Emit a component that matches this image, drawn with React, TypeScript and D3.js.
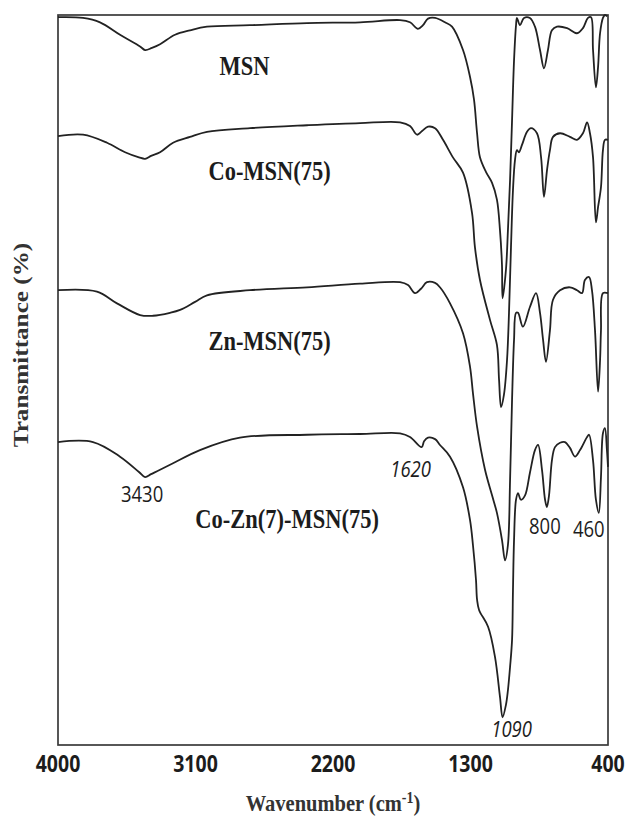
import React from "react";
import * as d3 from "d3";

// FTIR spectra: [wavenumber (cm-1), transmittance (offset, a.u.)]
const msn: [number, number][] = [
  [4000, 99.7], [3836, 99.6], [3725, 99.0], [3594, 97.3], [3463, 95.7], [3430, 95.2],
  [3385, 95.5], [3332, 96.0],
  [3234, 97.3], [3136, 97.9], [3025, 98.4], [2743, 98.6], [2370, 98.9], [2023, 99.0],
  [1761, 99.3], [1696, 99.0], [1644, 98.1], [1611, 98.6], [1578, 99.5], [1532, 99.6],
  [1467, 99.0], [1421, 98.4], [1349, 95.2], [1303, 91.5], [1277, 88.4], [1257, 83.8],
  [1238, 80.5], [1199, 78.5], [1159, 77.0], [1127, 74.7], [1107, 70.5], [1094, 65.8],
  [1090, 61.2], [1068, 65.1], [1055, 70.5], [1041, 77.4], [1028, 85.6], [1015, 93.8],
  [1002, 98.6], [996, 99.6], [976, 98.6], [950, 99.6], [911, 99.6], [878, 98.4],
  [845, 95.2], [819, 92.7], [793, 95.2], [767, 97.9], [734, 98.4], [668, 98.2],
  [603, 97.5], [564, 98.2], [531, 99.6], [511, 99.7], [498, 95.2], [479, 90.1],
  [465, 92.9], [452, 97.5], [433, 99.6], [420, 100], [405, 99.8],
];

const coMsn: [number, number][] = [
  [4000, 83.4], [3836, 83.6], [3679, 82.5], [3561, 81.2], [3470, 80.5], [3430, 80.3],
  [3391, 80.7], [3332, 81.2],
  [3247, 82.5], [3136, 83.3], [3025, 84.0], [2743, 84.5], [2370, 84.9], [2023, 85.2],
  [1761, 85.3], [1696, 84.8], [1650, 83.6], [1617, 84.1], [1578, 84.7], [1532, 84.5],
  [1480, 82.9], [1415, 80.5], [1349, 78.4], [1290, 72.9], [1271, 68.2], [1238, 63.7],
  [1172, 58.2], [1127, 54.8], [1113, 50.0], [1100, 46.3], [1081, 48.0], [1061, 52.7],
  [1048, 59.2], [1035, 68.2], [1022, 76.0], [1009, 80.1], [996, 81.5], [983, 81.2],
  [963, 82.2], [930, 84.0], [904, 84.5], [865, 83.8], [838, 80.5], [819, 75.1],
  [799, 78.8], [780, 81.5], [760, 83.3], [714, 83.8], [649, 83.3], [603, 82.9],
  [564, 83.8], [537, 85.3], [518, 83.8], [498, 80.5], [479, 71.6], [465, 73.7],
  [446, 76.4], [433, 81.5], [420, 82.9], [400, 82.9],
];

const znMsn: [number, number][] = [
  [4000, 62.3], [3745, 62.1], [3614, 60.5], [3463, 58.9], [3378, 58.8], [3267, 59.2],
  [3201, 59.6], [3103, 60.7], [3025, 61.6], [2743, 62.3], [2370, 62.7], [2023, 63.2],
  [1761, 63.4], [1709, 63.0], [1663, 61.9], [1624, 62.5], [1585, 63.4], [1532, 63.3],
  [1500, 62.7], [1434, 60.5], [1349, 56.4], [1303, 51.8], [1284, 48.2], [1257, 43.6],
  [1205, 37.7], [1159, 34.2], [1127, 31.8], [1094, 28.1], [1074, 25.3], [1055, 27.4],
  [1041, 36.3], [1028, 47.3], [1015, 55.5], [1002, 59.2], [989, 59.2], [957, 57.3],
  [911, 60.0], [871, 61.9], [845, 59.2], [825, 55.5], [806, 52.5], [780, 56.8],
  [760, 61.0], [714, 62.3], [649, 62.7], [603, 62.3], [570, 61.9], [551, 63.7],
  [524, 64.1], [505, 62.3], [485, 56.8], [465, 48.4], [452, 52.7], [446, 56.8],
  [433, 61.9], [400, 61.9],
];

const coZnMsn: [number, number][] = [
  [4000, 41.5], [3771, 41.5], [3594, 39.5], [3470, 37.4], [3430, 36.7], [3391, 37.1],
  [3332, 37.7], [3247, 38.6],
  [3071, 40.4], [2809, 42.1], [2370, 42.5], [2023, 42.6], [1761, 42.7], [1696, 42.2],
  [1620, 40.8], [1604, 41.6], [1578, 42.1], [1532, 41.9], [1500, 41.1], [1434, 39.5],
  [1349, 35.3], [1303, 30.8], [1284, 27.4], [1264, 22.6], [1257, 19.9], [1244, 18.5],
  [1185, 16.2], [1140, 12.1], [1107, 6.6], [1090, 3.8], [1068, 5.5], [1055, 7.5],
  [1041, 10.7], [1028, 14.4], [1022, 21.2], [1015, 28.1], [1002, 33.6], [989, 34.5],
  [970, 33.6], [943, 34.2], [911, 37.3], [878, 40.4], [858, 41.1], [832, 37.7],
  [812, 33.6], [800, 32.6], [786, 34.2], [767, 39.0], [747, 40.8], [714, 41.4],
  [682, 41.5], [649, 40.7], [616, 39.5], [583, 40.4], [537, 42.2], [524, 42.5],
  [498, 39.0], [479, 33.6], [460, 31.8], [446, 36.7], [433, 42.7], [420, 43.4],
  [407, 40.4], [400, 38.1],
];

const seriesNames = ["MSN", "Co-MSN(75)", "Zn-MSN(75)", "Co-Zn(7)-MSN(75)"];
const seriesData = [msn, coMsn, znMsn, coZnMsn];
// label anchor per series: [wavenumber, transmittance]
const seriesLabelAt: [number, number][] = [
  [2780, 91.8], [2615, 77.4], [2615, 54.1], [2500, 29.7],
];

const xTicks = [4000, 3100, 2200, 1300, 400];
// band assignments marked on the lowest spectrum: [wavenumber, text, italic]
const bandLabels: [number, string, boolean][] = [
  [3430, "3430", false],
  [1620, "1620", true],
  [1090, "1090", true],
  [800, "800", false],
  [460, "460", false],
];

const W = 633;
const H = 816;
const M = { left: 58, right: 608, top: 15, bottom: 745 };

export default function App() {
  const x = d3.scaleLinear().domain([4000, 400]).range([M.left, M.right]);
  const y = d3.scaleLinear().domain([0, 100]).range([M.bottom, M.top]);
  const line = d3
    .line<[number, number]>()
    .x((d) => x(d[0]))
    .y((d) => y(d[1]))
    .curve(d3.curveCatmullRom.alpha(0.5));

  const ink = "#1c1c1c";
  const serif = "'Liberation Serif', 'DejaVu Serif', serif";
  const sans = "'Open Sans', 'Noto Sans', sans-serif";

  // band label offsets relative to the band minimum on the lowest trace
  const bandPos: Record<string, [number, number]> = {
    "3430": [-3, 25],
    "1620": [-11, 30],
    "1090": [9, 20],
    "800": [-2, 27],
    "460": [-10, 24],
  };
  const lowest = coZnMsn;
  const valueAt = (wn: number) => {
    const p = lowest.find((d) => d[0] === wn);
    return p ? p[1] : 0;
  };

  return (
    <svg
      width={W}
      height={H}
      viewBox={`0 0 ${W} ${H}`}
      style={{ position: "absolute", left: 0, top: 0, background: "#fff" }}
    >
      <rect x={0} y={0} width={W} height={H} fill="#fff" />
      <rect
        x={M.left}
        y={M.top}
        width={M.right - M.left}
        height={M.bottom - M.top}
        fill="none"
        stroke="#3a3a3a"
        strokeWidth={1.7}
      />

      {seriesData.map((s, i) => (
        <path
          key={seriesNames[i]}
          d={line(s) ?? ""}
          fill="none"
          stroke="#222"
          strokeWidth={1.8}
          strokeLinejoin="round"
        />
      ))}

      {seriesNames.map((name, i) => (
        <text
          key={name}
          transform={`translate(${x(seriesLabelAt[i][0])},${y(seriesLabelAt[i][1])}) scale(1,1.18)`}
          textAnchor="middle"
          fontFamily={serif}
          fontWeight={700}
          fontSize={22.5}
          fill={ink}
        >
          {name}
        </text>
      ))}

      {bandLabels.map(([wn, txt, it]) => {
        const [dx, dy] = bandPos[txt];
        return (
          <text
            key={txt}
            transform={`translate(${x(wn) + dx},${y(valueAt(wn)) + dy}) scale(1,1.15)`}
            textAnchor="middle"
            fontFamily={sans}
            fontStyle={it ? "italic" : "normal"}
            fontSize={18.5}
            fill={ink}
          >
            {txt}
          </text>
        );
      })}

      {xTicks.map((t) => (
        <text
          key={t}
          transform={`translate(${x(t)},${M.bottom + 27}) scale(1,1.2)`}
          textAnchor="middle"
          fontFamily={sans}
          fontWeight={700}
          fontSize={19.5}
          fill={ink}
        >
          {t}
        </text>
      ))}

      <text
        transform={`translate(${(M.left + M.right) / 2},${M.bottom + 66}) scale(1,1.15)`}
        textAnchor="middle"
        fontFamily={serif}
        fontWeight={700}
        fontSize={20.5}
        fill="#333"
      >
        Wavenumber (cm
        <tspan fontSize={14} dy={-7}>-1</tspan>
        <tspan dy={7}>)</tspan>
      </text>

      <text
        transform={`translate(28,${(M.top + M.bottom) / 2 - 35}) rotate(-90) scale(1.2,1)`}
        textAnchor="middle"
        fontFamily={serif}
        fontWeight={700}
        fontSize={21}
        fill="#333"
      >
        Transmittance (%)
      </text>
    </svg>
  );
}
